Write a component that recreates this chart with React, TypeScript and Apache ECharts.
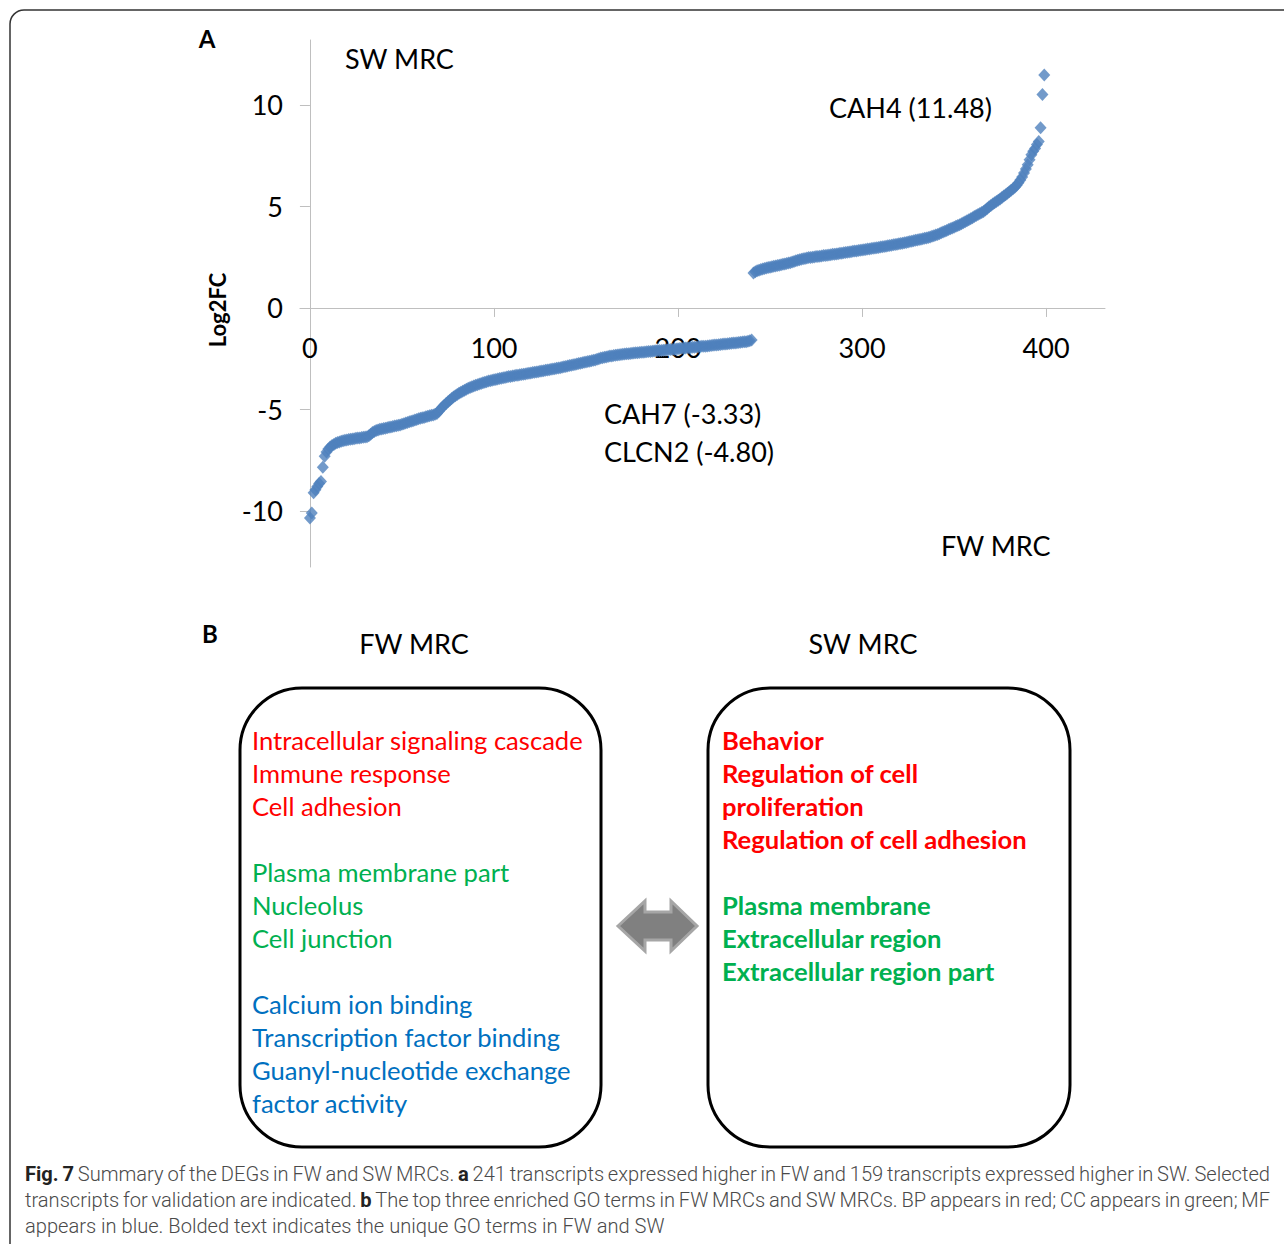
import React, { useEffect, useRef } from "react";
import * as echarts from "echarts";

// Log2FC of transcripts higher in FW (241, sorted ascending)
const fwLog2FC = [
  -10.35, -10.1, -9.1, -8.95, -8.8, -8.65, -8.55, -7.85, -7.3, -7.1,
  -6.95, -6.85, -6.78, -6.72, -6.67, -6.63, -6.6, -6.57, -6.54, -6.52,
  -6.5, -6.48, -6.47, -6.45, -6.44, -6.42, -6.41, -6.4, -6.38, -6.37,
  -6.36, -6.34, -6.3, -6.22, -6.14, -6.08, -6.04, -6.01, -5.98, -5.96,
  -5.94, -5.92, -5.9, -5.88, -5.86, -5.84, -5.82, -5.8, -5.78, -5.76,
  -5.73, -5.7, -5.67, -5.64, -5.61, -5.58, -5.55, -5.52, -5.49, -5.46,
  -5.43, -5.41, -5.39, -5.36, -5.33, -5.31, -5.29, -5.27, -5.24, -5.2,
  -5.1, -4.98, -4.88, -4.79, -4.7, -4.62, -4.54, -4.46, -4.39, -4.32,
  -4.26, -4.2, -4.15, -4.1, -4.05, -4.0, -3.96, -3.92, -3.88, -3.84,
  -3.81, -3.78, -3.75, -3.72, -3.69, -3.66, -3.63, -3.6, -3.58, -3.56,
  -3.54, -3.52, -3.5, -3.48, -3.46, -3.44, -3.42, -3.4, -3.38, -3.37,
  -3.35, -3.34, -3.32, -3.31, -3.29, -3.28, -3.26, -3.25, -3.23, -3.22,
  -3.2, -3.18, -3.17, -3.15, -3.14, -3.12, -3.1, -3.09, -3.07, -3.06,
  -3.04, -3.02, -3.01, -2.99, -2.97, -2.96, -2.94, -2.92, -2.9, -2.88,
  -2.86, -2.84, -2.82, -2.8, -2.78, -2.76, -2.74, -2.72, -2.7, -2.68,
  -2.66, -2.64, -2.62, -2.6, -2.58, -2.56, -2.53, -2.5, -2.47, -2.45,
  -2.43, -2.41, -2.39, -2.37, -2.36, -2.34, -2.33, -2.32, -2.3, -2.29,
  -2.28, -2.27, -2.26, -2.25, -2.24, -2.23, -2.22, -2.21, -2.2, -2.19,
  -2.18, -2.18, -2.17, -2.16, -2.15, -2.14, -2.13, -2.12, -2.11, -2.1,
  -2.1, -2.09, -2.08, -2.07, -2.06, -2.05, -2.05, -2.04, -2.03, -2.02,
  -2.01, -2.0, -1.99, -1.98, -1.97, -1.96, -1.96, -1.95, -1.94, -1.93,
  -1.92, -1.91, -1.9, -1.89, -1.89, -1.88, -1.87, -1.86, -1.85, -1.84,
  -1.83, -1.82, -1.81, -1.8, -1.79, -1.78, -1.77, -1.76, -1.75, -1.74,
  -1.73, -1.72, -1.71, -1.7, -1.69, -1.68, -1.67, -1.66, -1.64, -1.62,
  -1.58,
];

// Log2FC of transcripts higher in SW (159, sorted ascending)
const swLog2FC = [
  1.72, 1.78, 1.83, 1.86, 1.89, 1.92, 1.95, 1.97, 1.99, 2.01,
  2.03, 2.05, 2.07, 2.09, 2.11, 2.13, 2.15, 2.17, 2.19, 2.21,
  2.23, 2.26, 2.29, 2.32, 2.35, 2.38, 2.4, 2.42, 2.44, 2.46,
  2.48, 2.49, 2.5, 2.51, 2.53, 2.54, 2.55, 2.56, 2.58, 2.59,
  2.6, 2.61, 2.62, 2.64, 2.65, 2.66, 2.67, 2.69, 2.7, 2.72,
  2.73, 2.75, 2.76, 2.77, 2.79, 2.8, 2.81, 2.83, 2.84, 2.86,
  2.87, 2.88, 2.9, 2.91, 2.93, 2.94, 2.95, 2.97, 2.98, 3.0,
  3.01, 3.03, 3.04, 3.06, 3.08, 3.09, 3.11, 3.13, 3.14, 3.16,
  3.17, 3.19, 3.21, 3.23, 3.25, 3.27, 3.29, 3.31, 3.33, 3.35,
  3.37, 3.39, 3.41, 3.43, 3.45, 3.47, 3.5, 3.53, 3.56, 3.59,
  3.62, 3.66, 3.7, 3.74, 3.78, 3.82, 3.86, 3.9, 3.94, 3.98,
  4.02, 4.06, 4.1, 4.15, 4.2, 4.25, 4.3, 4.35, 4.4, 4.45,
  4.5, 4.55, 4.6, 4.65, 4.7, 4.75, 4.82, 4.9, 4.98, 5.05,
  5.12, 5.18, 5.24, 5.3, 5.37, 5.44, 5.51, 5.58, 5.65, 5.72,
  5.8, 5.87, 5.95, 6.05, 6.17, 6.3, 6.45, 6.65, 6.85, 7.05,
  7.3, 7.55, 7.72, 7.85, 8.05, 8.2, 8.88, 10.52, 11.48,
];

const xTickValues = [0, 100, 200, 300, 400];
const yTickValues = [-10, -5, 0, 5, 10];

const chartAnnotations = [
  { text: "SW MRC", x: 345, y: 58 },
  { text: "CAH4 (11.48)", x: 829, y: 107 },
  { text: "CAH7 (-3.33)", x: 604, y: 413 },
  { text: "CLCN2 (-4.80)", x: 604, y: 451 },
  { text: "FW MRC", x: 941, y: 545 },
];

const fwBP = ["Intracellular signaling cascade", "Immune response", "Cell adhesion"];
const fwCC = ["Plasma membrane part", "Nucleolus", "Cell junction"];
const fwMF = ["Calcium ion binding", "Transcription factor binding", "Guanyl-nucleotide exchange", "factor activity"];
const swBP = ["Behavior", "Regulation of cell", "proliferation", "Regulation of cell adhesion"];
const swCC = ["Plasma membrane", "Extracellular region", "Extracellular region part"];

const captionLines: [string, boolean][][] = [
  [["Fig. 7", true], [" Summary of the DEGs in FW and SW MRCs. ", false], ["a", true], [" 241 transcripts expressed higher in FW and 159 transcripts expressed higher in SW. Selected", false]],
  [["transcripts for validation are indicated. ", false], ["b", true], [" The top three enriched GO terms in FW MRCs and SW MRCs. BP appears in red; CC appears in green; MF", false]],
  [["appears in blue. Bolded text indicates the unique GO terms in FW and SW", false]],
];

const FONT = "Lato, 'Open Sans', sans-serif";
const CAP_FONT = "Roboto, 'Noto Sans', sans-serif";
const CAP_SIZE = 20.1;
const TERM_SIZE = 25.6;
const RED = "#FF0000";
const GREEN = "#00B050";
const BLUE = "#0070C0";
const MARKER = "#4F81BD";

function captionElements(): any[] {
  const els: any[] = [];
  const canvas = document.createElement("canvas");
  const ctx = canvas.getContext("2d")!;
  const left = 25;
  const right = 1270;
  const ys = [1174, 1200, 1226];
  const fontOf = (b: boolean) => `${b ? "bold" : "300"} ${CAP_SIZE}px ${CAP_FONT}`;
  captionLines.forEach((line, li) => {
    const words: { t: string; b: boolean }[] = [];
    line.forEach(([seg, bold]) => {
      seg.split(" ").forEach((w) => {
        if (w.length) words.push({ t: w, b: bold });
      });
    });
    const widths = words.map((w) => {
      ctx.font = fontOf(w.b);
      return ctx.measureText(w.t).width;
    });
    ctx.font = fontOf(false);
    const spaceW = ctx.measureText(" ").width;
    const total = widths.reduce((a, b) => a + b, 0);
    const justify = li < captionLines.length - 1;
    const gap = justify ? (right - left - total) / (words.length - 1) : spaceW;
    let x = left;
    words.forEach((w, i) => {
      els.push({
        type: "text",
        x,
        y: ys[li],
        style: {
          text: w.t,
          font: fontOf(w.b),
          fill: w.b ? "#222222" : "#4a4a4a",
          verticalAlign: "middle",
          align: "left",
        },
      });
      x += widths[i] + gap;
    });
  });
  return els;
}

function termTexts(lines: string[], color: string, x: number, y0: number, bold: boolean): any[] {
  return lines.map((t, i) => ({
    type: "text",
    x,
    y: y0 + i * 33,
    style: {
      text: t,
      fill: color,
      font: `${bold ? "bold" : "normal"} ${TERM_SIZE}px ${FONT}`,
      verticalAlign: "middle",
      align: "left",
    },
  }));
}

export default function App() {
  const ref = useRef<HTMLDivElement>(null);

  useEffect(() => {
    if (!ref.current) return;
    const chart = echarts.init(ref.current, undefined, { renderer: "svg" });
    const allValues = [...fwLog2FC, ...swLog2FC];
    const data = allValues.map((v, i) => [i, v]);

    const graphic: any[] = [
      {
        type: "rect",
        shape: { x: 10, y: 10, width: 1400, height: 1400, r: 14 },
        style: { fill: "none", stroke: "#333333", lineWidth: 1.5 },
        silent: true,
      },
      {
        type: "text",
        x: 207,
        y: 38,
        style: { text: "A", font: `bold 24px ${FONT}`, fill: "#000", align: "center", verticalAlign: "middle" },
      },
      {
        type: "text",
        x: 217,
        y: 310,
        rotation: Math.PI / 2,
        style: { text: "Log2FC", font: `bold 22px ${FONT}`, fill: "#000", align: "center", verticalAlign: "middle" },
      },
      ...chartAnnotations.map((a) => ({
        type: "text",
        x: a.x,
        y: a.y,
        style: { text: a.text, font: `normal 27px ${FONT}`, fill: "#000", align: "left", verticalAlign: "middle" },
      })),
      {
        type: "text",
        x: 210,
        y: 633,
        style: { text: "B", font: `bold 24px ${FONT}`, fill: "#000", align: "center", verticalAlign: "middle" },
      },
      {
        type: "text",
        x: 414,
        y: 643,
        style: { text: "FW MRC", font: `normal 27px ${FONT}`, fill: "#000", align: "center", verticalAlign: "middle" },
      },
      {
        type: "text",
        x: 863,
        y: 643,
        style: { text: "SW MRC", font: `normal 27px ${FONT}`, fill: "#000", align: "center", verticalAlign: "middle" },
      },
      {
        type: "rect",
        shape: { x: 240, y: 688, width: 361, height: 459, r: 62 },
        style: { fill: "none", stroke: "#000", lineWidth: 3 },
      },
      {
        type: "rect",
        shape: { x: 708, y: 688, width: 362, height: 459, r: 62 },
        style: { fill: "none", stroke: "#000", lineWidth: 3 },
      },
      {
        type: "polygon",
        shape: {
          points: [
            [618, 926], [645, 901], [645, 912], [671, 912], [671, 901],
            [697, 926], [671, 951], [671, 940], [645, 940], [645, 951],
          ],
        },
        style: { fill: "#808080", stroke: "#A6A6A6", lineWidth: 3 },
      },
      ...termTexts(fwBP, RED, 252, 740, false),
      ...termTexts(fwCC, GREEN, 252, 872, false),
      ...termTexts(fwMF, BLUE, 252, 1004, false),
      ...termTexts(swBP, RED, 722, 740, true),
      ...termTexts(swCC, GREEN, 722, 905, true),
      ...captionElements(),
    ];

    chart.setOption({
      animation: false,
      backgroundColor: "#ffffff",
      grid: { left: 300, right: 179, top: 40, bottom: 677, containLabel: false },
      xAxis: {
        type: "value",
        min: -5.4,
        max: 432,
        splitLine: { show: false },
        axisLine: { show: true, onZero: true, lineStyle: { color: "#BFBFBF", width: 1 } },
        axisTick: { show: true, length: 9, inside: false, customValues: xTickValues, lineStyle: { color: "#BFBFBF" } },
        axisLabel: {
          show: true,
          customValues: xTickValues,
          margin: -233,
          fontSize: 27,
          fontFamily: FONT,
          color: "#000",
        },
      },
      yAxis: {
        type: "value",
        min: -12.76,
        max: 13.2,
        splitLine: { show: false },
        axisLine: { show: true, onZero: true, lineStyle: { color: "#BFBFBF", width: 1 } },
        axisTick: { show: true, length: 10, inside: false, customValues: yTickValues, lineStyle: { color: "#BFBFBF" } },
        axisLabel: {
          show: true,
          customValues: yTickValues,
          margin: 17,
          fontSize: 27,
          fontFamily: FONT,
          color: "#000",
        },
      },
      series: [
        {
          type: "scatter",
          data,
          symbol: "diamond",
          symbolSize: [12, 13],
          itemStyle: { color: MARKER },
        },
      ],
      graphic,
    });

    return () => chart.dispose();
  }, []);

  return (
    <div
      ref={ref}
      style={{ position: "absolute", left: 0, top: 0, width: 1284, height: 1244 }}
    />
  );
}
